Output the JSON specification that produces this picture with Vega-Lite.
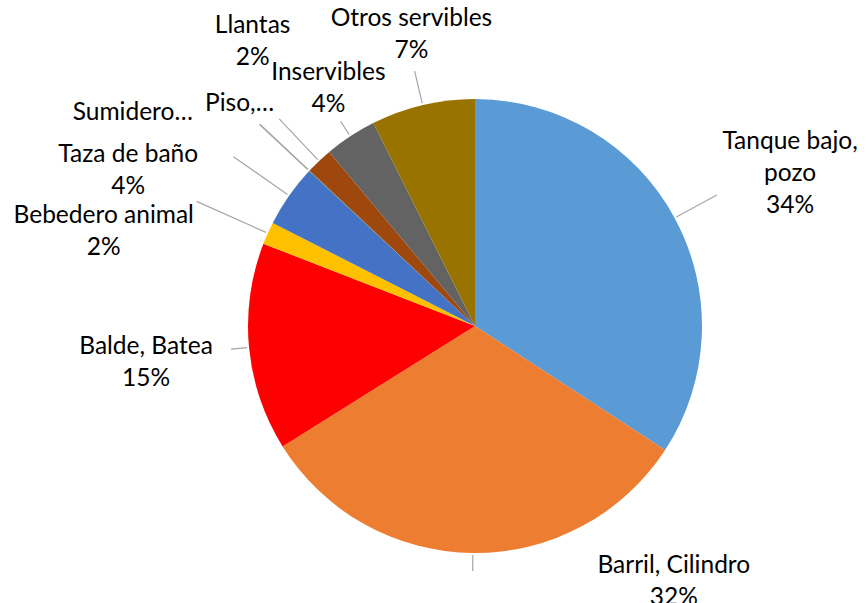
{
  "$schema": "https://vega.github.io/schema/vega-lite/v6.json",
  "autosize": "none",
  "width": 782,
  "height": 554,
  "padding": {"left": 84, "top": 49, "right": 0, "bottom": 0},
  "background": "white",
  "config": {"view": {"stroke": null}, "text": {"font": "Lato", "fontSize": 24.5, "lineHeight": 32, "color": "#000000", "align": "center", "baseline": "middle", "lineBreak": "\n"}},
  "data": {"values": [
    {"orden": 1, "cat": "Tanque bajo, pozo", "label": "Tanque bajo,\npozo\n34%", "value": 34.2},
    {"orden": 2, "cat": "Barril, Cilindro", "label": "Barril, Cilindro\n32%", "value": 31.9},
    {"orden": 3, "cat": "Balde, Batea", "label": "Balde, Batea\n15%", "value": 14.8},
    {"orden": 4, "cat": "Bebedero animal", "label": "Bebedero animal\n2%", "value": 1.6},
    {"orden": 5, "cat": "Taza de baño", "label": "Taza de baño\n4%", "value": 4.46},
    {"orden": 6, "cat": "Sumidero", "label": "Sumidero…", "value": 0.02},
    {"orden": 7, "cat": "Piso", "label": "Piso,…", "value": 0.02},
    {"orden": 8, "cat": "Llantas", "label": "Llantas\n2%", "value": 1.9},
    {"orden": 9, "cat": "Inservibles", "label": "Inservibles\n4%", "value": 3.7},
    {"orden": 10, "cat": "Otros servibles", "label": "Otros servibles\n7%", "value": 7.4}
  ]},
  "encoding": {
    "theta": {"field": "value", "type": "quantitative", "stack": true},
    "order": {"field": "orden", "type": "quantitative"},
    "detail": {"field": "cat", "type": "nominal"}
  },
  "layer": [
    {
      "mark": {"type": "arc", "radius": 227},
      "encoding": {
        "color": {
          "field": "cat", "type": "nominal", "legend": null,
          "scale": {
            "domain": ["Tanque bajo, pozo", "Barril, Cilindro", "Balde, Batea", "Bebedero animal", "Taza de baño", "Sumidero", "Piso", "Llantas", "Inservibles", "Otros servibles"],
            "range": ["#5B9BD5", "#ED7D31", "#FF0000", "#FFC000", "#4472C4", "#70AD47", "#264478", "#9E480E", "#636363", "#997300"]
          }
        }
      }
    },
    {
      "mark": {"type": "arc", "radius": 245, "radius2": 229, "padAngle": 3.1, "fillOpacity": 0, "stroke": "#A6A6A6", "strokeWidth": 1.2},
      "encoding": {"strokeOpacity": {"condition": {"test": "indexof(['Barril, Cilindro','Balde, Batea','Inservibles'], datum.cat) >= 0", "value": 1}, "value": 0}}
    },
    {
      "mark": {"type": "arc", "radius": 295, "radius2": 229, "padAngle": 3.1, "fillOpacity": 0, "stroke": "#A6A6A6", "strokeWidth": 1.2},
      "encoding": {"strokeOpacity": {"condition": {"test": "indexof(['Taza de baño','Sumidero','Piso'], datum.cat) >= 0", "value": 1}, "value": 0}}
    },
    {
      "mark": {"type": "arc", "radius": 275, "radius2": 229, "padAngle": 3.1, "fillOpacity": 0, "stroke": "#A6A6A6", "strokeWidth": 1.2},
      "encoding": {"strokeOpacity": {"condition": {"test": "datum.cat === 'Tanque bajo, pozo'", "value": 1}, "value": 0}}
    },
    {
      "mark": {"type": "arc", "radius": 305, "radius2": 229, "padAngle": 3.1, "fillOpacity": 0, "stroke": "#A6A6A6", "strokeWidth": 1.2},
      "encoding": {"strokeOpacity": {"condition": {"test": "datum.cat === 'Bebedero animal'", "value": 1}, "value": 0}}
    },
    {
      "mark": {"type": "arc", "radius": 285, "radius2": 229, "padAngle": 3.1, "fillOpacity": 0, "stroke": "#A6A6A6", "strokeWidth": 1.2},
      "encoding": {"strokeOpacity": {"condition": {"test": "datum.cat === 'Llantas'", "value": 1}, "value": 0}}
    },
    {
      "mark": {"type": "arc", "radius": 262, "radius2": 229, "padAngle": 3.1, "fillOpacity": 0, "stroke": "#A6A6A6", "strokeWidth": 1.2},
      "encoding": {"strokeOpacity": {"condition": {"test": "datum.cat === 'Otros servibles'", "value": 1}, "value": 0}}
    },
    {
      "mark": {"type": "text", "radius": 350, "thetaOffset": 0.046, "dy": -32},
      "encoding": {"text": {"condition": {"test": "datum.cat === 'Tanque bajo, pozo'", "field": "label", "type": "nominal"}, "value": ""}}
    },
    {
      "mark": {"type": "text", "radius": 324, "thetaOffset": -0.67, "dy": -16},
      "encoding": {"text": {"condition": {"test": "datum.cat === 'Barril, Cilindro'", "field": "label", "type": "nominal"}, "value": ""}}
    },
    {
      "mark": {"type": "text", "radius": 331, "thetaOffset": -0.0175, "dy": -16},
      "encoding": {"text": {"condition": {"test": "datum.cat === 'Balde, Batea'", "field": "label", "type": "nominal"}, "value": ""}}
    },
    {
      "mark": {"type": "text", "radius": 383, "thetaOffset": -0.173, "dy": -16},
      "encoding": {"text": {"condition": {"test": "datum.cat === 'Bebedero animal'", "field": "label", "type": "nominal"}, "value": ""}}
    },
    {
      "mark": {"type": "text", "radius": 380, "thetaOffset": -0.19, "dy": -16},
      "encoding": {"text": {"condition": {"test": "datum.cat === 'Taza de baño'", "field": "label", "type": "nominal"}, "value": ""}}
    },
    {
      "mark": {"type": "text", "radius": 405, "thetaOffset": -0.188, "dy": 4},
      "encoding": {"text": {"condition": {"test": "datum.cat === 'Sumidero'", "field": "label", "type": "nominal"}, "value": ""}}
    },
    {
      "mark": {"type": "text", "radius": 324, "thetaOffset": 0.004, "dy": 1},
      "encoding": {"text": {"condition": {"test": "datum.cat === 'Piso'", "field": "label", "type": "nominal"}, "value": ""}}
    },
    {
      "mark": {"type": "text", "radius": 363, "thetaOffset": 0.0977, "dy": -13},
      "encoding": {"text": {"condition": {"test": "datum.cat === 'Llantas'", "field": "label", "type": "nominal"}, "value": ""}}
    },
    {
      "mark": {"type": "text", "radius": 279, "thetaOffset": 0.028, "dy": -16},
      "encoding": {"text": {"condition": {"test": "datum.cat === 'Inservibles'", "field": "label", "type": "nominal"}, "value": ""}}
    },
    {
      "mark": {"type": "text", "radius": 298, "thetaOffset": 0.0175, "dy": -16},
      "encoding": {"text": {"condition": {"test": "datum.cat === 'Otros servibles'", "field": "label", "type": "nominal"}, "value": ""}}
    }
  ]
}
